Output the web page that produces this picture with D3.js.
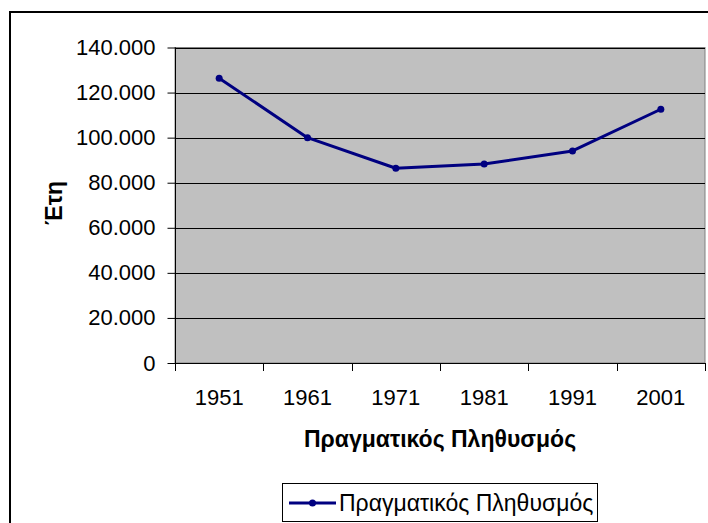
<!DOCTYPE html>
<html>
<head>
<meta charset="utf-8">
<script src="https://cdn.jsdelivr.net/npm/d3@7"></script>
<style>
body{margin:0;background:#fff}
text{font-family:"Liberation Sans",Arial,sans-serif;fill:#000}
</style>
</head>
<body>
<div id="chart"></div>
<script>
var years = ['1951','1961','1971','1981','1991','2001']
var population = [126400, 100000, 86400, 88300, 94100, 112600]
var yTicks = [0,20000,40000,60000,80000,100000,120000,140000]
var seriesName = 'Πραγματικός Πληθυσμός'
var yTitle = 'Έτη'
var xTitle = 'Πραγματικός Πληθυσμός'

var width = 708, height = 523
var plot = {left:175, top:47.5, right:705, bottom:363}

var svg = d3.select('#chart').append('svg')
  .attr('width',width).attr('height',height)

// outer chart frame (runs off the picture right and bottom)
svg.append('rect')
  .attr('x',10).attr('y',12).attr('width',width).attr('height',height)
  .attr('fill','#fff').attr('stroke','#000').attr('stroke-width',2)

var x = d3.scaleBand().domain(years).range([plot.left,plot.right])
var y = d3.scaleLinear().domain([0,140000]).range([plot.bottom,plot.top])

var locale = d3.formatLocale({decimal:',', thousands:'.', grouping:[3], currency:['','€']})
var fmt = locale.format(',')

svg.append('rect')
  .attr('x',plot.left).attr('y',plot.top)
  .attr('width',plot.right-plot.left).attr('height',plot.bottom-plot.top)
  .attr('fill','#c0c0c0').attr('stroke','#808080').attr('stroke-width',1)

svg.append('g').selectAll('line')
  .data(yTicks.slice(1))
  .enter().append('line')
  .attr('x1',plot.left).attr('x2',plot.right)
  .attr('y1',function(d){return Math.round(y(d))+0.5})
  .attr('y2',function(d){return Math.round(y(d))+0.5})
  .attr('stroke','#000').attr('stroke-width',1)

var yAxis = svg.append('g')
  .attr('transform','translate('+(plot.left+0.5)+',0)')
  .call(d3.axisLeft(y).tickValues(yTicks).tickFormat(fmt).tickSize(8).tickPadding(12))
yAxis.select('.domain').attr('stroke','#000').attr('d','M0,'+plot.top+'V'+(plot.bottom+8))
yAxis.selectAll('line').attr('stroke','#000')
yAxis.selectAll('text').attr('font-size','22px').attr('font-family','"Liberation Sans",Arial,sans-serif').attr('fill','#000')

var xAxis = svg.append('g')
  .attr('transform','translate(0,'+(plot.bottom+0.5)+')')
  .call(d3.axisBottom(x).tickSize(0).tickPadding(26))
xAxis.select('.domain').attr('stroke','#000').attr('d','M'+plot.left+',0H'+plot.right)
xAxis.selectAll('text').attr('font-size','22px').attr('font-family','"Liberation Sans",Arial,sans-serif').attr('fill','#000')

// category boundary ticks
var bounds = years.map(function(d){return x(d)}).concat([plot.right])
svg.append('g').selectAll('line')
  .data(bounds).enter().append('line')
  .attr('x1',function(d){return Math.round(d)+0.5}).attr('x2',function(d){return Math.round(d)+0.5})
  .attr('y1',plot.bottom).attr('y2',plot.bottom+8)
  .attr('stroke','#000')

var line = d3.line()
  .x(function(d,i){return x(years[i])+x.bandwidth()/2})
  .y(function(d){return y(d)})

svg.append('path')
  .datum(population)
  .attr('d',line)
  .attr('fill','none').attr('stroke','#000080').attr('stroke-width',3)
  .attr('stroke-linejoin','round')

svg.append('g').selectAll('circle')
  .data(population).enter().append('circle')
  .attr('cx',function(d,i){return x(years[i])+x.bandwidth()/2})
  .attr('cy',function(d){return y(d)})
  .attr('r',3.5).attr('fill','#000080')

svg.append('text')
  .attr('transform','translate(62,203) rotate(-90)')
  .attr('text-anchor','middle')
  .attr('font-size','23px').attr('font-weight','bold')
  .text(yTitle)

svg.append('text')
  .attr('x',(plot.left+plot.right)/2).attr('y',447)
  .attr('text-anchor','middle')
  .attr('font-size','23px').attr('font-weight','bold')
  .text(xTitle)

// legend
var legend = svg.append('g')
legend.append('rect')
  .attr('x',282.5).attr('y',483.5).attr('width',315).attr('height',38)
  .attr('fill','#fff').attr('stroke','#000').attr('stroke-width',1)
legend.append('line')
  .attr('x1',289).attr('x2',336).attr('y1',503).attr('y2',503)
  .attr('stroke','#000080').attr('stroke-width',3)
legend.append('circle')
  .attr('cx',312.5).attr('cy',503).attr('r',3.5).attr('fill','#000080')
legend.append('text')
  .attr('x',339).attr('y',511)
  .attr('font-size','23px')
  .text(seriesName)
</script>
</body>
</html>
